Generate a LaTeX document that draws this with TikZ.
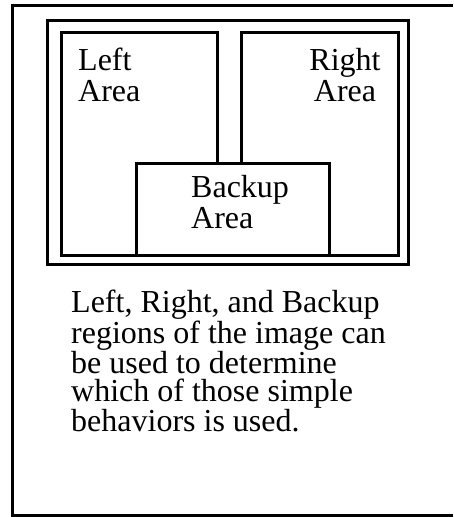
\documentclass[tikz,border=0pt]{standalone}
\usepackage{fontspec}
\setmainfont{Liberation Serif}
\begin{document}
\begin{tikzpicture}[x=1pt,y=-1pt,
  frame/.style={line width=3pt},
  area/.style={draw,line width=3.2pt,inner sep=0pt},
  label/.style={inner sep=0pt,font=\fontsize{32}{31}\selectfont},
  caption/.style={inner sep=0pt,align=left,font=\fontsize{32}{28.3}\selectfont}]
  \useasboundingbox (0,0) rectangle (453,517);
  % page frame, open to the right
  \draw[frame] (453,5) -- (12,5) -- (12,515) -- (453,515);
  % outer border of the image
  \draw[frame] (47,20.5) rectangle (408.5,264.5);
  % the three regions
  \node[area,minimum width=156pt,minimum height=223pt,anchor=north west] (leftarea) at (60,31) {};
  \node[area,minimum width=157pt,minimum height=223pt,anchor=north west] (rightarea) at (240,31) {};
  \node[area,fill=white,minimum width=193pt,minimum height=92pt,anchor=north west] (backup) at (135,162) {};
  % region labels
  \node[label,align=left,anchor=north west] (leftlbl) at (78,48) {Left\\Area};
  \node[label,align=center,anchor=north] (rightlbl) at (345,48) {Right\\Area};
  \node[label,align=left,anchor=north west] (backuplbl) at (191,175) {Backup\\Area};
  % caption
  \node[caption,anchor=north west] (cap) at (71,290)
    {Left, Right, and Backup\\regions of the image can\\be used to determine\\which of those simple\\behaviors is used.};
\end{tikzpicture}
\end{document}
